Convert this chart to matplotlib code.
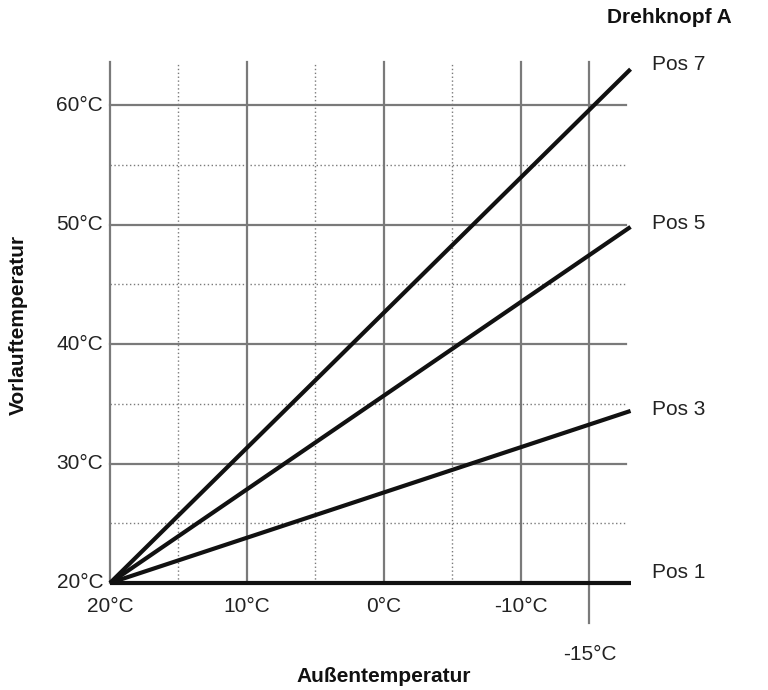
import matplotlib
matplotlib.use("Agg")
import matplotlib.pyplot as plt

# Heizkurven (Drehknopf A): Außentemperatur -> Vorlauftemperatur
x_start = 20
x_end = -18
positions = ["Pos 1", "Pos 3", "Pos 5", "Pos 7"]
vorlauf_end = [20, 34.4, 49.8, 63.0]
label_y = [20.9, 34.5, 50.1, 63.35]

x_solid = [20, 10, 0, -10, -15]
x_dotted = [15, 5, -5]
x_ticklabels = {20: "20°C", 10: "10°C", 0: "0°C", -10: "-10°C"}
y_solid = [30, 40, 50, 60]
y_dotted = [25, 35, 45, 55]
y_ticklabels = [20, 30, 40, 50, 60]

plt.rcParams["font.family"] = ["Liberation Sans", "DejaVu Sans"]

fig = plt.figure(figsize=(7.68, 6.90), dpi=100)
ax = fig.add_axes([110 / 768, 107 / 690, 530 / 768, 521 / 690])
ax.set_xlim(20, -18.69)
ax.set_ylim(20, 63.6)
ax.axis("off")

y_top = 63.6
x_grid_end = -17.7
grid_col = "#7a7a7a"
dots = (0, (1, 1.8))

for x in x_solid:
    y_low = 16.65 if x == -15 else 20
    ax.plot([x, x], [y_low, y_top], color=grid_col, lw=1.6, clip_on=False, zorder=1)
for x in x_dotted:
    ax.plot([x, x], [20, y_top], color=grid_col, lw=1.0, ls=dots, clip_on=False, zorder=1)
for y in y_solid:
    ax.plot([20, x_grid_end], [y, y], color=grid_col, lw=1.6, clip_on=False, zorder=1)
for y in y_dotted:
    ax.plot([20, x_grid_end], [y, y], color=grid_col, lw=1.0, ls=dots, clip_on=False, zorder=1)

for name, ye, ly in zip(positions, vorlauf_end, label_y):
    ax.plot([x_start, x_end], [20, ye], color="#111111", lw=3.0,
            solid_capstyle="butt", clip_on=False, zorder=3)
    ax.text(-19.6, ly, name, fontsize=15, color="#222222", ha="left", va="center")

for y in y_ticklabels:
    ax.text(20.5, y, f"{y}°C", fontsize=15, color="#222222", ha="right", va="center")
for x, lab in x_ticklabels.items():
    ax.text(x, 18.0, lab, fontsize=15, color="#222222", ha="center", va="center")
ax.text(-15, 14.0, "-15°C", fontsize=15, color="#222222", ha="center", va="center")

ax.text(0, 12.2, "Außentemperatur", fontsize=15, fontweight="bold",
        color="#111111", ha="center", va="center")
ax.text(26.7, 41.6, "Vorlauftemperatur", fontsize=15, fontweight="bold",
        color="#111111", ha="center", va="center", rotation=90)
ax.text(-16.3, 67.3, "Drehknopf A", fontsize=15, fontweight="bold",
        color="#111111", ha="left", va="center")

fig.savefig("out.png", dpi=100, facecolor="white")
